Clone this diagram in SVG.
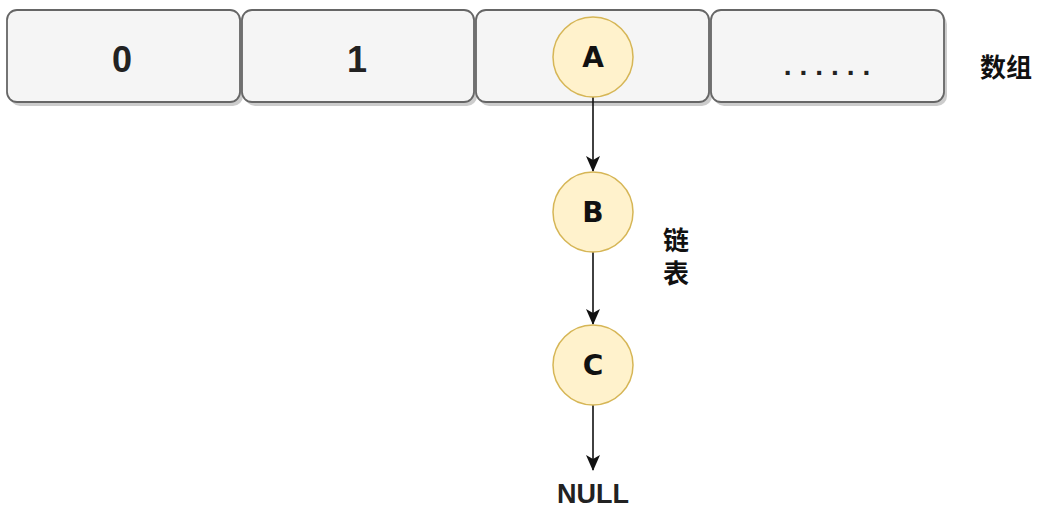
<svg xmlns="http://www.w3.org/2000/svg" width="1044" height="513" viewBox="0 0 1044 513">
<style>
.cell{fill:#f5f5f5;stroke:#666;stroke-width:1.8}
.shadow{fill:#000;opacity:0.2}
.node{fill:#fff2cc;stroke:#d6b656;stroke-width:1.5}
.t{font-family:"Liberation Sans","DejaVu Sans",sans-serif;font-weight:bold;fill:#222;text-anchor:middle}
.h{font-family:"DejaVu Sans","Liberation Sans",sans-serif;font-weight:bold;fill:#111;text-anchor:middle;font-size:28px}
.cjk{font-family:"Liberation Sans","Noto Sans CJK SC",sans-serif;font-weight:bold;fill:#111;text-anchor:middle;font-size:26px}
.edge{stroke:#111;stroke-width:1.6;fill:none}
</style>
<defs>
<marker id="arr" viewBox="0 0 16 14" refX="15" refY="7" markerWidth="16" markerHeight="14" markerUnits="userSpaceOnUse" orient="auto">
<path d="M0,0 L16,7 L0,14 L4,7 z" fill="#111"/>
</marker>
</defs>
<g id="cell0"><rect class="shadow" x="10" y="14" width="233" height="92" rx="10"/><rect class="cell" x="7" y="10" width="233" height="92" rx="10"/><text class="t" x="122" y="72" font-size="36">0</text></g>
<g id="cell1"><rect class="shadow" x="245" y="14" width="232" height="92" rx="10"/><rect class="cell" x="242" y="10" width="232" height="92" rx="10"/><text class="t" x="357" y="72" font-size="36">1</text></g>
<g id="cell2"><rect class="shadow" x="479" y="14" width="233" height="92" rx="10"/><rect class="cell" x="476" y="10" width="233" height="92" rx="10"/></g>
<g id="cell3"><rect class="shadow" x="714" y="14" width="233" height="92" rx="10"/><rect class="cell" x="711" y="10" width="233" height="92" rx="10"/><text class="t" x="831" y="75" font-size="28" letter-spacing="8">......</text></g>
<g id="label-array"><text class="cjk" x="1006" y="77">数组</text></g>
<g id="label-list"><text class="cjk" x="676" y="250">链</text><text class="cjk" x="676" y="283">表</text></g>
<g id="edges">
<line class="edge" x1="593" y1="97" x2="593" y2="171" marker-end="url(#arr)"/>
<line class="edge" x1="593" y1="252" x2="593" y2="324" marker-end="url(#arr)"/>
<line class="edge" x1="593" y1="405" x2="593" y2="470" marker-end="url(#arr)"/>
</g>
<g id="nodeA"><circle class="node" cx="593" cy="57" r="40"/><text class="h" x="593" y="67">A</text></g>
<g id="nodeB"><circle class="node" cx="593" cy="212" r="40"/><text class="h" x="593" y="222">B</text></g>
<g id="nodeC"><circle class="node" cx="593" cy="365" r="40"/><text class="h" x="593" y="375">C</text></g>
<g id="null"><text class="t" x="593" y="503" font-size="27">NULL</text></g>
</svg>
